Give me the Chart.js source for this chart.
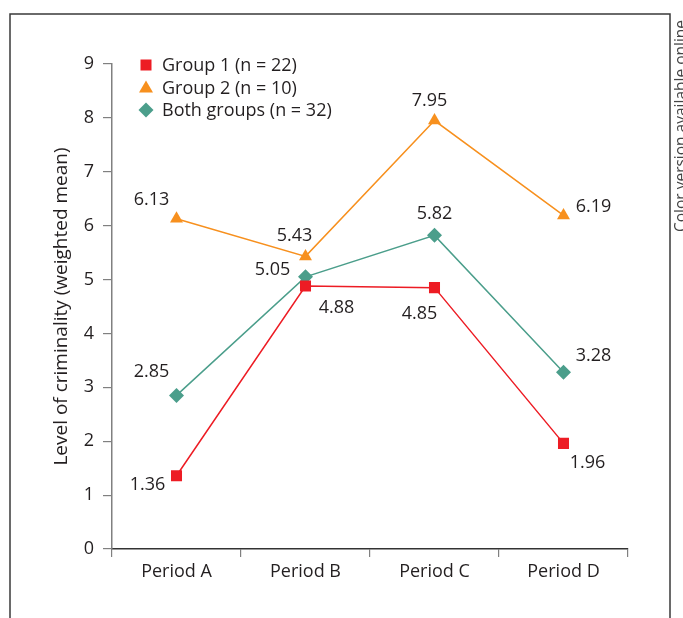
<!DOCTYPE html>
<html>
<head>
<meta charset="utf-8">
<script src="https://cdn.jsdelivr.net/npm/chart.js@4"></script>
<style>
  html, body { margin: 0; padding: 0; background: #fff; }
  #wrap { position: absolute; left: 0; top: 0; width: 683px; height: 618px; }
</style>
</head>
<body>
<div id="wrap"><canvas id="c" width="683" height="618"></canvas></div>
<script>
const categories = ['Period A', 'Period B', 'Period C', 'Period D'];
const group1 = [1.36, 4.88, 4.85, 1.96];
const group2 = [6.13, 5.43, 7.95, 6.19];
const both = [2.85, 5.05, 5.82, 3.28];
const seriesNames = ['Group 1 (n = 22)', 'Group 2 (n = 10)', 'Both groups (n = 32)'];
const yTicks = [0, 1, 2, 3, 4, 5, 6, 7, 8, 9];
const yTitle = 'Level of criminality (weighted mean)';

// label offsets (px) relative to each point: style only
const labelOffsets = [
  [[-29, 9], [31, 22], [-15, 26], [24, 19]],
  [[-25, -19], [-11, -21], [-5, -20], [30, -9]],
  [[-25, -24], [-33, -7], [0, -21], [30, -16]]
];

const FONT = '"Open Sans", "Noto Sans", sans-serif';
const FS = 18;
const RED = '#ed1c24', ORANGE = '#f7901e', TEAL = '#4b9e8b';
const TEXT = '#231f20';

const framePlugin = {
  id: 'frame',
  beforeDraw(chart) {
    const ctx = chart.ctx;
    ctx.save();
    ctx.strokeStyle = '#3a3a3a';
    ctx.lineWidth = 1.5;
    ctx.beginPath();
    ctx.moveTo(10, 640);
    ctx.lineTo(10, 14);
    ctx.lineTo(670, 14);
    ctx.lineTo(670, 640);
    ctx.stroke();
    ctx.translate(682, 232);
    ctx.rotate(-Math.PI / 2);
    ctx.fillStyle = '#444';
    ctx.font = '15.5px ' + FONT;
    ctx.textAlign = 'left';
    ctx.textBaseline = 'middle';
    ctx.fillText('Color version available online', 0, 0);
    ctx.restore();
  }
};

const labelPlugin = {
  id: 'vlabels',
  afterDatasetsDraw(chart) {
    const ctx = chart.ctx;
    ctx.save();
    ctx.font = FS + 'px ' + FONT;
    ctx.fillStyle = TEXT;
    ctx.textAlign = 'center';
    ctx.textBaseline = 'middle';
    chart.data.datasets.forEach((ds, i) => {
      const meta = chart.getDatasetMeta(i);
      meta.data.forEach((pt, j) => {
        const o = labelOffsets[i][j];
        ctx.fillText(ds.data[j].toFixed(2), pt.x + o[0], pt.y + o[1]);
      });
    });
    ctx.restore();
  }
};

const legendPlugin = {
  id: 'customLegend',
  afterDraw(chart) {
    const ctx = chart.ctx;
    ctx.save();
    const mx = 146, tx = 162, ys = [65, 87.5, 110];
    ctx.fillStyle = RED;
    ctx.fillRect(mx - 5.5, ys[0] - 5.5, 11, 11);
    ctx.fillStyle = ORANGE;
    ctx.beginPath();
    ctx.moveTo(mx, ys[1] - 7);
    ctx.lineTo(mx + 7, ys[1] + 5);
    ctx.lineTo(mx - 7, ys[1] + 5);
    ctx.closePath();
    ctx.fill();
    ctx.fillStyle = TEAL;
    ctx.beginPath();
    ctx.moveTo(mx, ys[2] - 7.5);
    ctx.lineTo(mx + 7.5, ys[2]);
    ctx.lineTo(mx, ys[2] + 7.5);
    ctx.lineTo(mx - 7.5, ys[2]);
    ctx.closePath();
    ctx.fill();
    ctx.font = FS + 'px ' + FONT;
    ctx.fillStyle = TEXT;
    ctx.textAlign = 'left';
    ctx.textBaseline = 'middle';
    seriesNames.forEach((n, i) => ctx.fillText(n, tx, ys[i] + 1));
    ctx.restore();
  }
};

function mk(label, data, color, style, radius) {
  return {
    label, data,
    borderColor: color, backgroundColor: color,
    pointBackgroundColor: color, pointBorderColor: color,
    pointStyle: style, pointRadius: radius, pointBorderWidth: 0,
    borderWidth: 1.5, tension: 0, fill: false
  };
}

new Chart(document.getElementById('c'), {
  type: 'line',
  data: {
    labels: categories,
    datasets: [
      mk(seriesNames[0], group1, RED, 'rect', 7.8),
      mk(seriesNames[1], group2, ORANGE, 'triangle', 7.5),
      mk(seriesNames[2], both, TEAL, 'rectRot', 7.5)
    ]
  },
  options: {
    responsive: false,
    animation: false,
    devicePixelRatio: 1,
    layout: { padding: { left: 0, top: 64, right: 55, bottom: 0 } },
    plugins: { legend: { display: false }, tooltip: { enabled: false } },
    scales: {
      x: {
        type: 'category',
        offset: true,
        grid: { offset: true, drawOnChartArea: false, drawTicks: true, tickLength: 8, color: '#808080', lineWidth: 1.2 },
        border: { color: '#333', width: 1.5 },
        ticks: { color: TEXT, font: { family: FONT, size: FS }, padding: 4 },
        afterFit(s) { s.height = 69; }
      },
      y: {
        min: 0, max: 9,
        afterBuildTicks(s) { s.ticks = yTicks.map(v => ({ value: v })); },
        grid: { drawOnChartArea: false, drawTicks: true, tickLength: 9, color: '#808080', lineWidth: 1.2 },
        border: { color: '#808080', width: 1.5 },
        ticks: { color: TEXT, font: { family: FONT, size: FS }, padding: 9 },
        title: { display: true, text: yTitle, color: TEXT, font: { family: FONT, size: 19 }, padding: { top: 50 } },
        afterFit(s) { s.width = 112; }
      }
    }
  },
  plugins: [framePlugin, labelPlugin, legendPlugin]
});
</script>
</body>
</html>
